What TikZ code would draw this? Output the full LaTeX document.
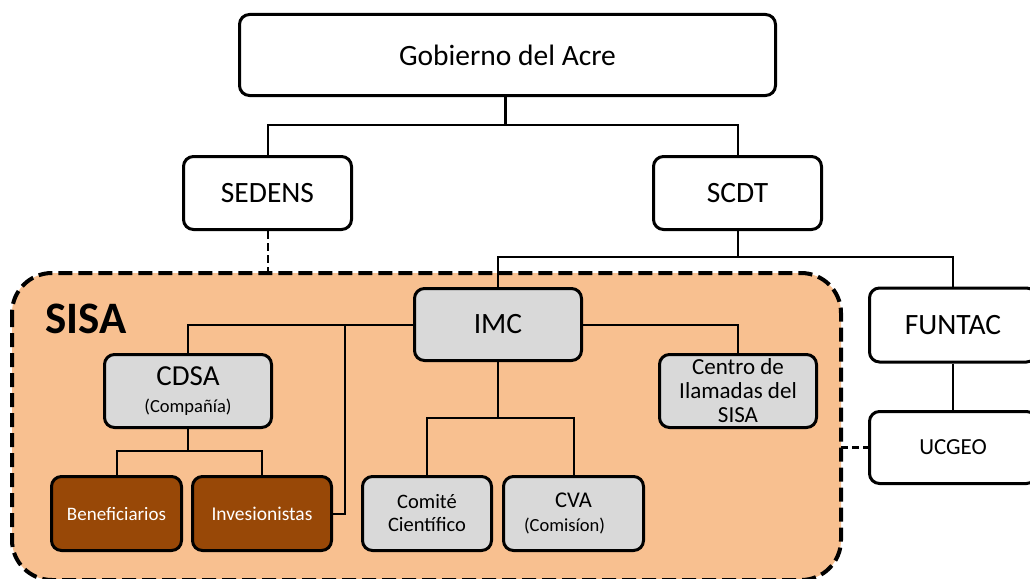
\documentclass[tikz,border=0pt]{standalone}
\usepackage{fontspec}
\setmainfont{Carlito}
\definecolor{peach}{RGB}{248,192,144}
\definecolor{brownbox}{RGB}{152,72,7}
\definecolor{graybox}{RGB}{217,217,217}
\begin{document}
\begin{tikzpicture}[x=1pt,y=-1pt,
  box/.style={draw=black,line width=3pt,rounded corners=10pt,align=center,inner sep=0pt,fill=white},
  graynode/.style={box,fill=graybox},
  brownnode/.style={box,fill=brownbox,text=white},
  bigtext/.style={font=\fontsize{29.5}{32}\selectfont},
  link/.style={line width=2pt},
  thicklink/.style={line width=3pt},
  dlink/.style={line width=2pt,dash pattern=on 8pt off 4pt},
  sisaborder/.style={draw=black,fill=peach,line width=4pt,dash pattern=on 14pt off 6pt,rounded corners=40pt}
]
\useasboundingbox (0,0) rectangle (1030,578);
% SISA area
\path[sisaborder] (12,273) rectangle (841,580);
\node[anchor=base west,font=\fontsize{45}{48}\selectfont\bfseries] (sisalbl) at (42,333) {SISA};

% top level
\node[box,bigtext,minimum width=536pt,minimum height=81pt] (gob) at (507.5,55) {Gobierno del Acre};
\node[box,bigtext,minimum width=168pt,minimum height=73pt] (sedens) at (267.5,193) {SEDENS};
\node[box,bigtext,minimum width=168pt,minimum height=73pt] (scdt) at (737.5,193) {SCDT};

% SISA members
\node[graynode,bigtext,minimum width=167pt,minimum height=72pt] (imc) at (498,324.5) {IMC};
\node[graynode,minimum width=167pt,minimum height=73pt,font=\fontsize{18.5}{27}\selectfont] (cdsa) at (188,391)
  {{\fontsize{29}{30}\selectfont CDSA}\\(Compañía)};
\node[graynode,minimum width=157pt,minimum height=73pt,font=\fontsize{23}{24}\selectfont] (centro) at (738,391)
  {Centro de\\Ilamadas del\\SISA};
\node[brownnode,minimum width=130pt,minimum height=74pt,font=\fontsize{19}{22}\selectfont] (benef) at (116.5,513.5) {Beneficiarios};
\node[brownnode,minimum width=139pt,minimum height=74pt,font=\fontsize{19.5}{22}\selectfont] (inves) at (262,513.5) {Invesionistas};
\node[graynode,minimum width=129pt,minimum height=74pt,font=\fontsize{20.5}{23}\selectfont] (comite) at (427,513.5) {Comité\\Científico};
\node[graynode,minimum width=140pt,minimum height=74pt,font=\fontsize{18.5}{24}\selectfont] (cva) at (573.5,513.5)
  {{\fontsize{22.5}{24}\selectfont CVA}\\(Comisíon)\hspace*{18pt}};

% outside
\node[box,bigtext,minimum width=167pt,minimum height=74pt] (funtac) at (953,325) {FUNTAC};
\node[box,minimum width=167pt,minimum height=72pt,font=\fontsize{23}{26}\selectfont] (ucgeo) at (953,447.5) {UCGEO};

% connectors
\coordinate (j1) at (505,125);
\draw[thicklink] (gob.south -| j1) -- (j1);
\draw[link] (sedens.north) |- (j1) -| (scdt.north);
\coordinate (j2) at (737.5,257);
\draw[link] (scdt.south) -- (j2);
\draw[link] (imc.north) |- (j2) -| (funtac.north);
\draw[dlink] (sedens.south) -- (sedens.south |- 0,273);

\coordinate (j3) at (345,325);
\draw[link] (imc.west) -| (cdsa.north);
\draw[link] (j3) |- (inves.east);
\draw[link] (imc.east) -| (centro.north);
\coordinate (j4) at (498,418);
\draw[link] (imc.south) -- (j4);
\draw[link] (comite.north) |- (j4) -| (cva.north);
\coordinate (j5) at (188,451);
\draw[link] (cdsa.south) -- (j5);
\draw[link] (benef.north) |- (j5) -| (inves.north);
\draw[link] (funtac.south) -- (ucgeo.north);
\coordinate (sisaedge) at (841,447.5);
\draw[line width=3pt,dash pattern=on 7pt off 4pt] (sisaedge) -- (ucgeo.west);
\end{tikzpicture}
\end{document}
